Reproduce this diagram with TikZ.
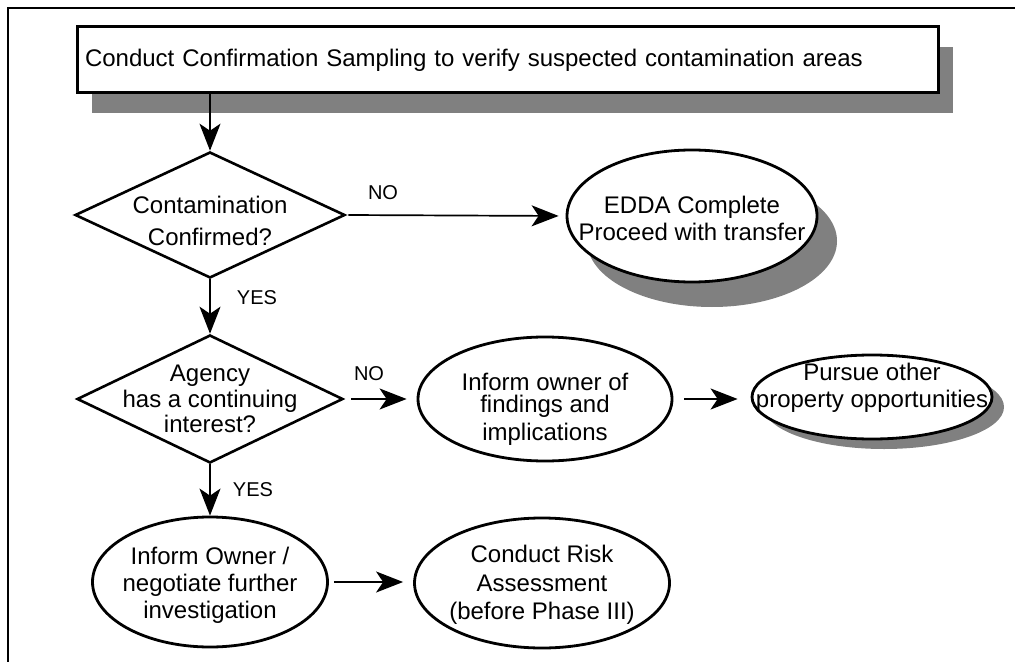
\documentclass[tikz,border=0pt]{standalone}
\usepackage{fontspec}
\setmainfont{Liberation Sans}
\usetikzlibrary{shapes.geometric,arrows.meta,shadows}
\definecolor{shadowgray}{RGB}{128,128,128}

\begin{document}
\begin{tikzpicture}[x=0.5pt,y=-0.5pt,
  font=\fontsize{12}{13.5}\selectfont,
  procbox/.style={rectangle, draw, line width=1.5pt, fill=white,
    minimum width=430.5pt, minimum height=33pt, inner xsep=4pt,
    text width=422.5pt, align=left},
  decision/.style={diamond, draw, line width=1.3pt, fill=white, inner sep=0pt},
  oval/.style={ellipse, draw, line width=1.4pt, fill=white, inner sep=0pt},
  txt/.style={align=center, inner sep=0pt},
  lbl/.style={font=\fontsize{10}{12}\selectfont, inner sep=0pt},
  flow/.style={-{Stealth[length=13.5pt,width=10.5pt,inset=3.5pt]}, line width=0.85pt}]

\useasboundingbox (0,0) rectangle (1015,662);
\clip (0,0) rectangle (1015,662);

% page frame
\draw[line width=1pt] (1020,8) -- (8,8) -- (8,670);

% opening step
\node[procbox, drop shadow={shadow xshift=7.5pt, shadow yshift=-10pt, fill=shadowgray, opacity=1}]
  (sample) at (507.5,60) {Conduct Confirmation Sampling to verify suspected contamination areas};

% first decision and its outcome
\node[decision, minimum width=135pt, minimum height=63pt] (q1) at (210,215) {};
\node[txt, font=\fontsize{12}{16}\selectfont] (q1t) at (210,221) {Contamination\\Confirmed?};

\node[oval, minimum width=125pt, minimum height=66pt,
  drop shadow={shadow xshift=10pt, shadow yshift=-12.5pt, fill=shadowgray, opacity=1}]
  (edda) at (692,216) {};
\node[txt] (eddat) at (692,218) {EDDA Complete\\Proceed with transfer};

% second decision
\node[decision, minimum width=133pt, minimum height=64pt] (q2) at (210,399) {};
\node[txt, font=\fontsize{12}{12.75}\selectfont] (q2t) at (210,399) {Agency\\has a continuing\\interest?};

\node[oval, minimum width=127pt, minimum height=62pt] (own1) at (545,399) {};
\node[txt, font=\fontsize{12}{12.5}\selectfont] (own1t) at (545,409)
  {Inform owner of\\[-1.5pt]findings and\\[1.5pt]implications};

\node[oval, minimum width=120pt, minimum height=42pt,
  drop shadow={shadow xshift=6pt, shadow yshift=-5pt, fill=shadowgray, opacity=1}]
  (pursue) at (872,397) {};
\node[txt] (pursuet) at (872,388) {Pursue other\\property opportunities};

% follow-up steps
\node[oval, minimum width=117.5pt, minimum height=65pt] (own2) at (210,582) {};
\node[txt] (own2t) at (210,585) {Inform Owner /\\negotiate further\\investigation};

\node[oval, minimum width=127.5pt, minimum height=65pt] (risk) at (542,583) {};
\node[txt, font=\fontsize{12}{14.25}\selectfont] (riskt) at (542,585)
  {Conduct Risk\\Assessment\\(before Phase III)};

% connectors
\draw[flow] (sample.south -| q1.north) -- (q1.north);
\draw[flow, shorten <=1pt, shorten >=3.5pt] (q1.east) -- (edda.west);
\draw[flow] (q1.south) -- (q2.north);
\draw[flow, shorten <=3.5pt, shorten >=5pt] (q2.east) -- (own1.west);
\draw[flow, shorten <=5.5pt, shorten >=6.5pt] (own1.east) -- (own1.east -| pursue.west);
\draw[flow] (q2.south) -- (own2.north);
\draw[flow, shorten <=2.5pt, shorten >=5pt] (own2.east) -- (own2.east -| risk.west);

% branch labels
\node[lbl] (no1) at (383,193) {NO};
\node[lbl] (yes1) at (257,298) {YES};
\node[lbl] (no2) at (369,374) {NO};
\node[lbl] (yes2) at (253,490) {YES};
\end{tikzpicture}
\end{document}
